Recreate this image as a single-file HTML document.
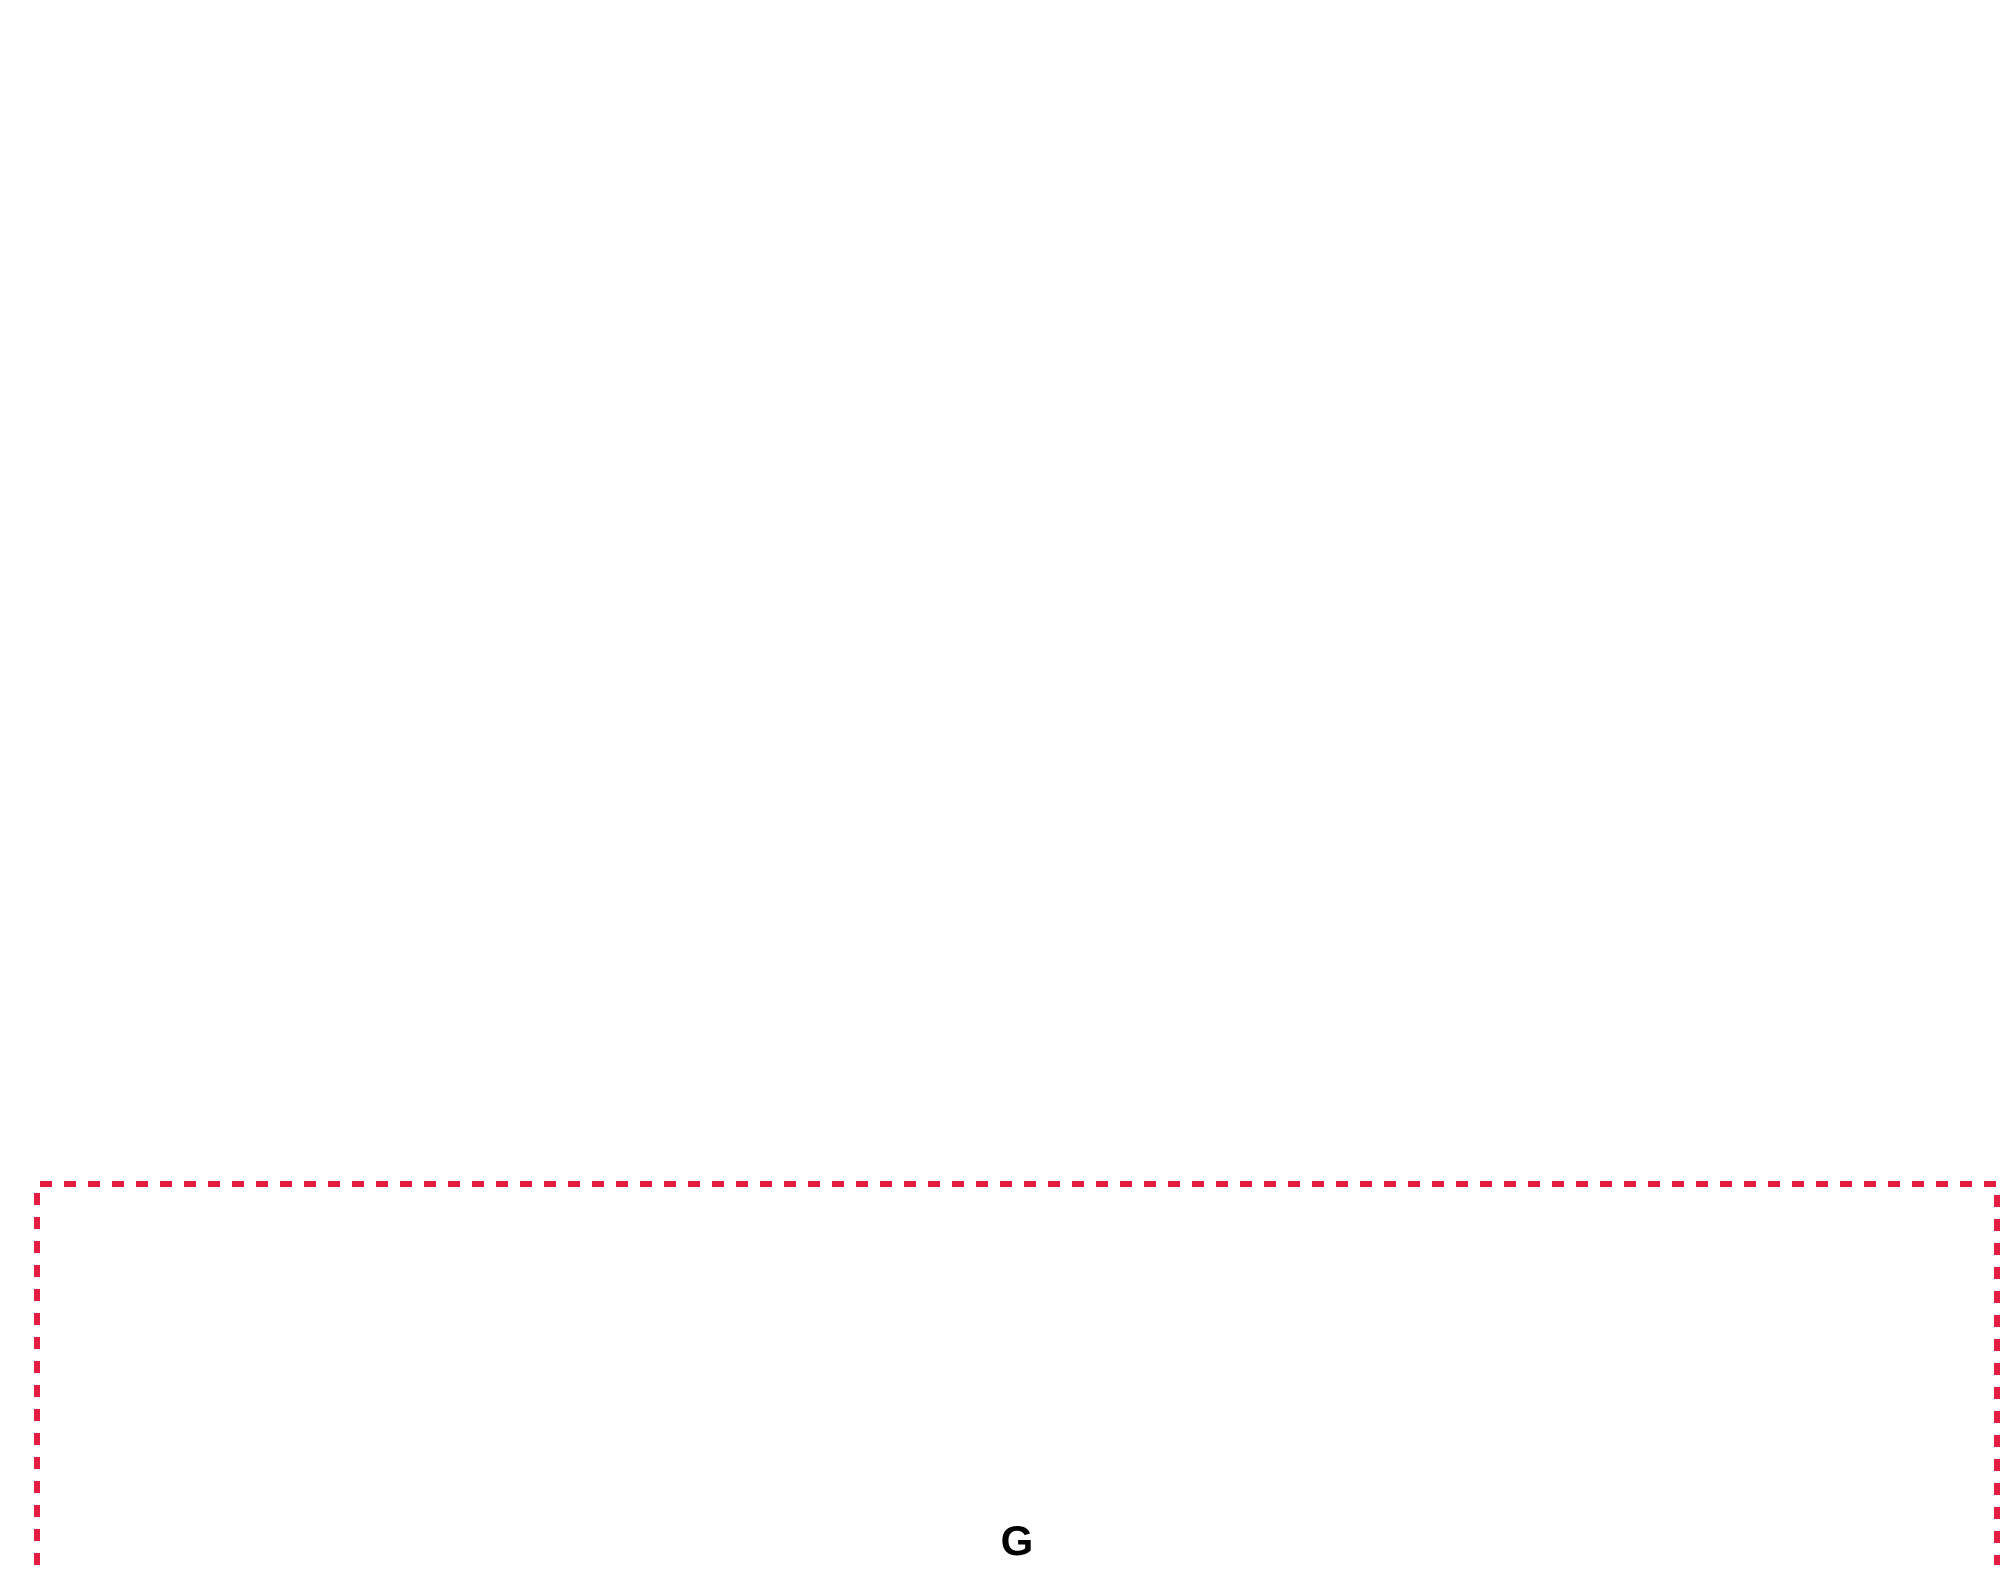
<!DOCTYPE html>
<html><head><meta charset="utf-8"><style>
html,body{margin:0;padding:0;background:#fff;width:2002px;height:1571px;overflow:hidden}
svg{display:block}
</style></head><body>
<svg width="2002" height="1571" viewBox="0 0 2002 1571" xmlns="http://www.w3.org/2000/svg">
<rect width="2002" height="1571" fill="#fff"/>
<path d="M37 1565 L37 1184 L1997 1184 L1997 1565" fill="none" stroke="#e31d41" stroke-width="6" stroke-dasharray="12 12"/>
<text x="1017" y="1555" text-anchor="middle" font-family="Liberation Sans, sans-serif" font-weight="bold" font-size="42" fill="#000">G</text>
</svg>
</body></html>
